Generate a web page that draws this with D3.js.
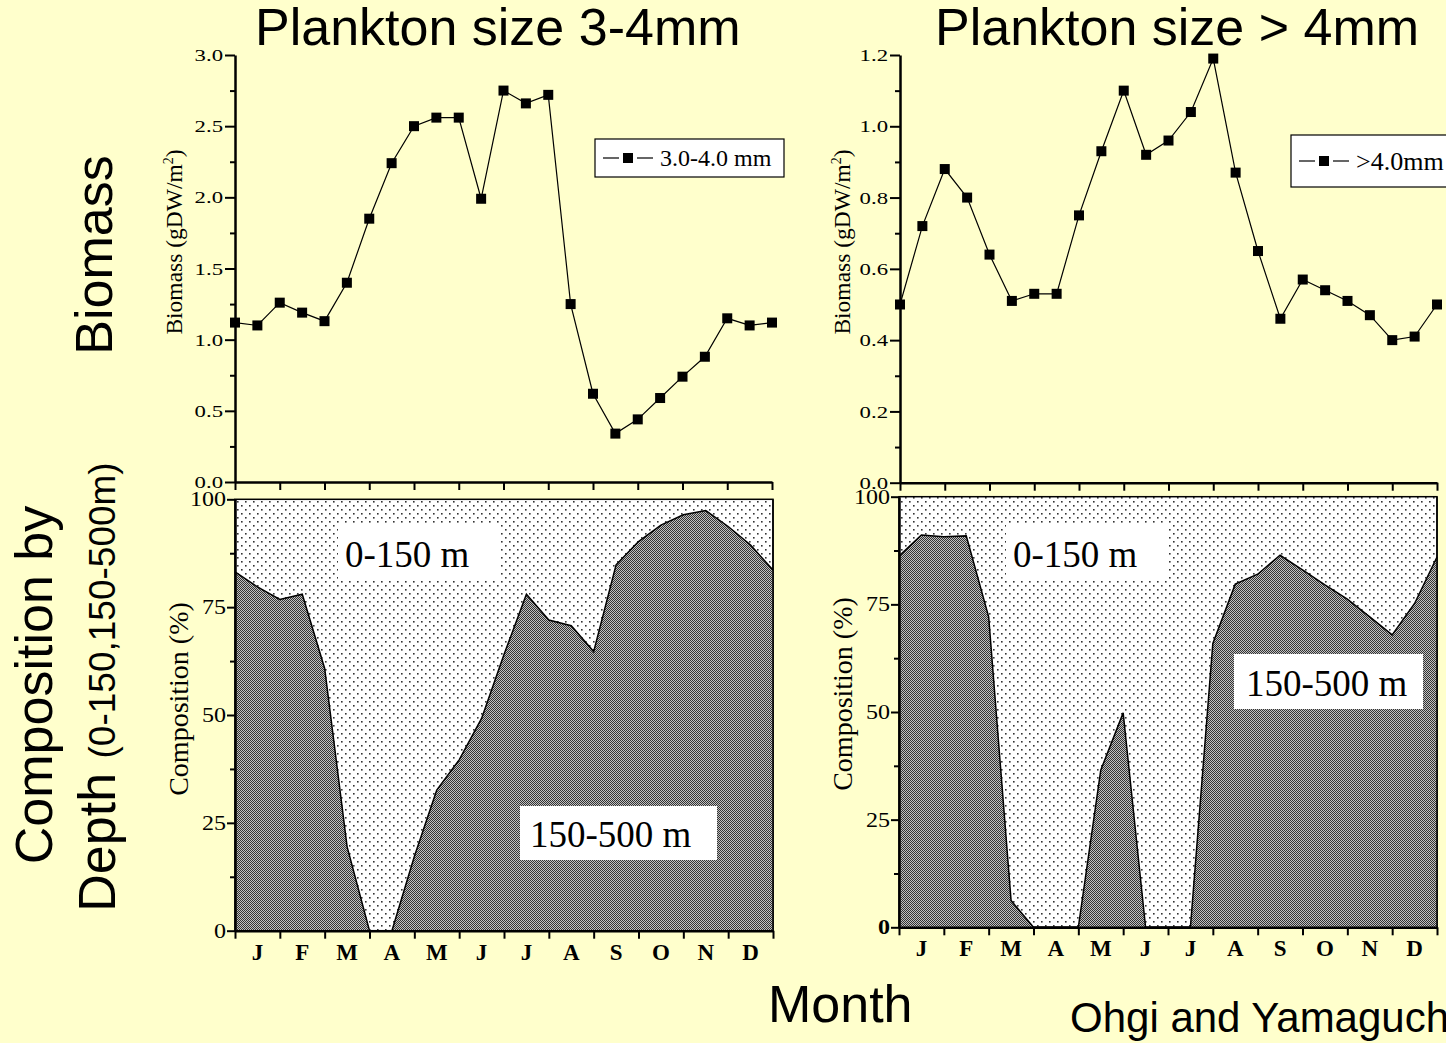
<!DOCTYPE html>
<html>
<head>
<meta charset="utf-8">
<script src="https://cdn.jsdelivr.net/npm/d3@7"></script>
<style>
  body { margin: 0; background: #ffffcc; }
  svg { display: block; }
  .serif { font-family: "Liberation Serif", "Times New Roman", serif; }
  .sans { font-family: "Liberation Sans", Arial, sans-serif; }
</style>
</head>
<body>
<div id="chart"></div>
<script>
'use strict'

// sampling positions, in months from 1 January (twice a month)
const monthPos = [0, 0.5, 1, 1.5, 2, 2.5, 3, 3.5, 4, 4.5, 5, 5.5, 6,
  6.5, 7, 7.5, 8, 8.5, 9, 9.5, 10, 10.5, 11, 11.5, 12]
const monthTicks = [0, 1, 2, 3, 4, 5, 6, 7, 8, 9, 10, 11, 12]
const monthLabels = ["J", "F", "M", "A", "M", "J", "J", "A", "S", "O", "N", "D"]

// biomass (gDW/m2)
const biomass34 = [1.12, 1.10, 1.26, 1.19, 1.13, 1.40, 1.85, 2.24, 2.50, 2.56, 2.56, 1.99,
  2.75, 2.66, 2.72, 1.25, 0.62, 0.34, 0.44, 0.59, 0.74, 0.88, 1.15, 1.10, 1.12]
const biomass4 = [0.50, 0.72, 0.88, 0.80, 0.64, 0.51, 0.53, 0.53, 0.75, 0.93, 1.10, 0.92,
  0.96, 1.04, 1.19, 0.87, 0.65, 0.46, 0.57, 0.54, 0.51, 0.47, 0.40, 0.41, 0.50]

// share of the 150-500 m layer (%)
const deep34 = [83.2, 79.7, 76.8, 78.0, 60.8, 19.5, 0, 0, 17.2, 32.6, 39.6, 49.2,
  64.0, 78.0, 72.0, 70.7, 64.7, 84.8, 90.2, 94.0, 96.4, 97.4, 93.7, 89.4, 83.6]
const deep4 = [86.2, 91.1, 90.7, 90.9, 72.1, 6.2, 0, 0, 0, 36.5, 49.8, 0,
  0, 0, 65.9, 79.7, 82.0, 86.4, 83.0, 79.5, 76.2, 72.1, 67.9, 75.2, 86.0]

const ticks34 = [0, 0.5, 1.0, 1.5, 2.0, 2.5, 3.0]
const minor34 = [0.25, 0.75, 1.25, 1.75, 2.25, 2.75]
const ticks4 = [0, 0.2, 0.4, 0.6, 0.8, 1.0, 1.2]
const minor4 = [0.1, 0.3, 0.5, 0.7, 0.9, 1.1]
const ticksComp = [0, 25, 50, 75, 100]
const minorComp = [12.5, 37.5, 62.5, 87.5]

const width = 1446, height = 1043

const svg = d3.select("#chart").append("svg")
  .attr("width", width).attr("height", height)

svg.append("rect").attr("width", width).attr("height", height).attr("fill", "#ffffcc")

const defs = svg.append("defs")
let chk = defs.append("pattern").attr("id", "checker")
  .attr("width", 2).attr("height", 2).attr("patternUnits", "userSpaceOnUse")
chk.append("rect").attr("width", 2).attr("height", 2).attr("fill", "#c0c0c0")
chk.append("rect").attr("width", 1).attr("height", 1).attr("fill", "#333")
chk.append("rect").attr("x", 1).attr("y", 1).attr("width", 1).attr("height", 1).attr("fill", "#333")

let dots = defs.append("pattern").attr("id", "dots")
  .attr("width", 8).attr("height", 8).attr("patternUnits", "userSpaceOnUse")
dots.append("rect").attr("width", 8).attr("height", 8).attr("fill", "#ffffff")
dots.append("rect").attr("x", 1).attr("y", 1).attr("width", 1.6).attr("height", 1.6).attr("fill", "#333")
dots.append("rect").attr("x", 5).attr("y", 5).attr("width", 1.6).attr("height", 1.6).attr("fill", "#333")

function styleAxis(g, sw){
  g.select(".domain").attr("stroke", "#000").attr("stroke-width", sw)
  g.selectAll(".tick line").attr("stroke", "#000").attr("stroke-width", 2)
}

function biomassPanel(p){
  let x = d3.scaleLinear().domain([0, 12]).range([p.left, p.right])
  let y = d3.scaleLinear().domain([0, p.max]).range([p.bottom, p.top])

  // y axis, major + minor
  let ya = svg.append("g").attr("transform", "translate(" + p.left + ",0)")
    .call(d3.axisLeft(y).tickValues(p.major).tickSize(10).tickSizeOuter(0)
      .tickPadding(2).tickFormat(d3.format(".1f")))
  styleAxis(ya, 2.5)
  ya.selectAll("text").attr("class", "serif").attr("font-size", 17.5).attr("fill", "#000")
    .attr("x", -12 / 1.3).attr("transform", "scale(1.3,1)")
  let ym = svg.append("g").attr("transform", "translate(" + p.left + ",0)")
    .call(d3.axisLeft(y).tickValues(p.minor).tickSize(5).tickFormat(""))
  ym.select(".domain").remove()
  ym.selectAll(".tick line").attr("stroke", "#000").attr("stroke-width", 2)

  let xa = svg.append("g").attr("transform", "translate(0," + p.bottom + ")")
    .call(d3.axisBottom(x).tickValues(monthTicks).tickSize(8).tickSizeOuter(0).tickFormat(""))
  styleAxis(xa, 2.5)

  let line = d3.line().x(function(d, i){ return x(monthPos[i]) }).y(function(d){ return y(d) })
  svg.append("path").datum(p.data).attr("d", line)
    .attr("fill", "none").attr("stroke", "#000").attr("stroke-width", 1.2)
  svg.append("g").selectAll("rect").data(p.data).enter().append("rect")
    .attr("x", function(d, i){ return x(monthPos[i]) - 5 })
    .attr("y", function(d){ return y(d) - 5 })
    .attr("width", 10).attr("height", 10).attr("fill", "#000")

  svg.append("text").attr("class", "serif").attr("font-size", 23.5)
    .attr("transform", "translate(" + p.labelX + ",242) rotate(-90)")
    .attr("text-anchor", "middle")
    .html('Biomass (gDW/m<tspan font-size="14" dy="-9">2</tspan><tspan dy="9">)</tspan>')

  // legend
  let lg = p.legend
  svg.append("rect").attr("x", lg.x).attr("y", lg.y).attr("width", lg.w).attr("height", lg.h)
    .attr("fill", "#fff").attr("stroke", "#000").attr("stroke-width", 1.2)
  let cy = lg.y + lg.h / 2
  svg.append("line").attr("x1", lg.x + 8).attr("x2", lg.x + 24).attr("y1", cy).attr("y2", cy)
    .attr("stroke", "#000").attr("stroke-width", 1.2)
  svg.append("line").attr("x1", lg.x + 42).attr("x2", lg.x + 58).attr("y1", cy).attr("y2", cy)
    .attr("stroke", "#000").attr("stroke-width", 1.2)
  svg.append("rect").attr("x", lg.x + 28).attr("y", cy - 5).attr("width", 10).attr("height", 10).attr("fill", "#000")
  svg.append("text").attr("class", "serif").attr("font-size", lg.fs)
    .attr("x", lg.x + 65).attr("y", cy + lg.fs * 0.33).attr("fill", "#000").text(lg.text)
}

function compPanel(p){
  let x = d3.scaleLinear().domain([0, 12]).range([p.left, p.right])
  let y = d3.scaleLinear().domain([0, 100]).range([p.bottom, p.top])

  svg.append("rect").attr("x", x(0)).attr("y", y(100))
    .attr("width", x(12) - x(0)).attr("height", y(0) - y(100))
    .attr("fill", "url(#dots)").attr("stroke", "#000").attr("stroke-width", 1.5)

  let area = d3.area().x(function(d, i){ return x(monthPos[i]) })
    .y0(y(0)).y1(function(d){ return y(d) })
  svg.append("path").datum(p.data).attr("d", area).attr("fill", "url(#checker)")
  let line = d3.line().x(function(d, i){ return x(monthPos[i]) }).y(function(d){ return y(d) })
  svg.append("path").datum(p.data).attr("d", line)
    .attr("fill", "none").attr("stroke", "#000").attr("stroke-width", 1.5)
  svg.append("line").attr("x1", x(12)).attr("x2", x(12)).attr("y1", y(100)).attr("y2", y(0))
    .attr("stroke", "#000").attr("stroke-width", 1.5)

  // layer labels on white boxes
  p.boxes.forEach(function(b){
    svg.append("rect").attr("x", b.x).attr("y", b.y).attr("width", b.w).attr("height", b.h).attr("fill", "#fff")
    svg.append("text").attr("class", "serif").attr("font-size", 37).attr("fill", "#000")
      .attr("x", b.x + b.pad).attr("y", b.y + b.h - 13).text(b.text)
  })

  let ya = svg.append("g").attr("transform", "translate(" + p.left + ",0)")
    .call(d3.axisLeft(y).tickValues(ticksComp).tickSize(8).tickSizeOuter(0).tickPadding(1))
  styleAxis(ya, 2.5)
  ya.selectAll("text").attr("class", "serif").attr("font-size", 20).attr("fill", "#000")
    .attr("x", -9 / 1.2).attr("transform", "scale(1.2,1)")
  if (p.boldZero) ya.selectAll("text").filter(function(d){ return d == 0 }).attr("font-weight", "bold")
  let ym = svg.append("g").attr("transform", "translate(" + p.left + ",0)")
    .call(d3.axisLeft(y).tickValues(minorComp).tickSize(5).tickFormat(""))
  ym.select(".domain").remove()
  ym.selectAll(".tick line").attr("stroke", "#000").attr("stroke-width", 2)

  let xa = svg.append("g").attr("transform", "translate(0," + p.bottom + ")")
    .call(d3.axisBottom(x).tickValues(monthTicks).tickSize(8).tickSizeOuter(0).tickFormat(""))
  styleAxis(xa, 2.5)

  svg.append("g").selectAll("text").data(monthLabels).enter().append("text")
    .attr("class", "serif").attr("font-size", 23).attr("font-weight", "bold")
    .attr("text-anchor", "middle").attr("fill", "#000")
    .attr("x", function(d, i){ return x(i + 0.5) })
    .attr("y", p.bottom + 29)
    .text(function(d){ return d })

  svg.append("text").attr("class", "serif").attr("font-size", 28).attr("fill", "#000")
    .attr("transform", "translate(" + p.labelX + "," + (p.labelY) + ") rotate(-90)")
    .attr("text-anchor", "middle").text("Composition (%)")
}

biomassPanel({left: 235, right: 772, top: 55, bottom: 482, max: 3.0,
  major: ticks34, minor: minor34, data: biomass34, labelX: 182,
  legend: {x: 595, y: 139, w: 189, h: 38, fs: 24, text: "3.0-4.0 mm"}})
biomassPanel({left: 900, right: 1437, top: 55, bottom: 482.7, max: 1.2,
  major: ticks4, minor: minor4, data: biomass4, labelX: 850,
  legend: {x: 1291, y: 135, w: 170, h: 52, fs: 26, text: ">4.0mm"}})

compPanel({left: 235, right: 773, top: 499.3, bottom: 930.7, data: deep34,
  labelX: 188, labelY: 699,
  boxes: [{x: 338, y: 523, w: 162, h: 57, pad: 7, text: "0-150 m"},
          {x: 520, y: 806, w: 197, h: 54, pad: 10, text: "150-500 m"}]})
compPanel({left: 899, right: 1437, top: 496.7, bottom: 927.3, data: deep4,
  labelX: 852, labelY: 694, boldZero: true,
  boxes: [{x: 1006, y: 523, w: 162, h: 57, pad: 7, text: "0-150 m"},
          {x: 1234, y: 654, w: 189, h: 55, pad: 12, text: "150-500 m"}]})

// titles and side labels
svg.append("text").attr("class", "sans").attr("font-size", 52).attr("x", 255).attr("y", 45)
  .text("Plankton size 3-4mm")
svg.append("text").attr("class", "sans").attr("font-size", 52).attr("x", 935).attr("y", 45)
  .text("Plankton size > 4mm")

svg.append("text").attr("class", "sans").attr("font-size", 52).attr("text-anchor", "middle")
  .attr("transform", "translate(112,255) rotate(-90)").text("Biomass")
svg.append("text").attr("class", "sans").attr("font-size", 52).attr("text-anchor", "middle")
  .attr("transform", "translate(52,685) rotate(-90)").text("Composition by")
svg.append("text").attr("class", "sans").attr("font-size", 52).attr("text-anchor", "middle")
  .attr("transform", "translate(115,687) rotate(-90)")
  .html('Depth <tspan font-size="37">(0-150,150-500m)</tspan>')

svg.append("text").attr("class", "sans").attr("font-size", 52).attr("x", 768).attr("y", 1022)
  .text("Month")
svg.append("text").attr("class", "sans").attr("font-size", 42).attr("x", 1070).attr("y", 1032)
  .text("Ohgi and Yamaguchi")
</script>
</body>
</html>
